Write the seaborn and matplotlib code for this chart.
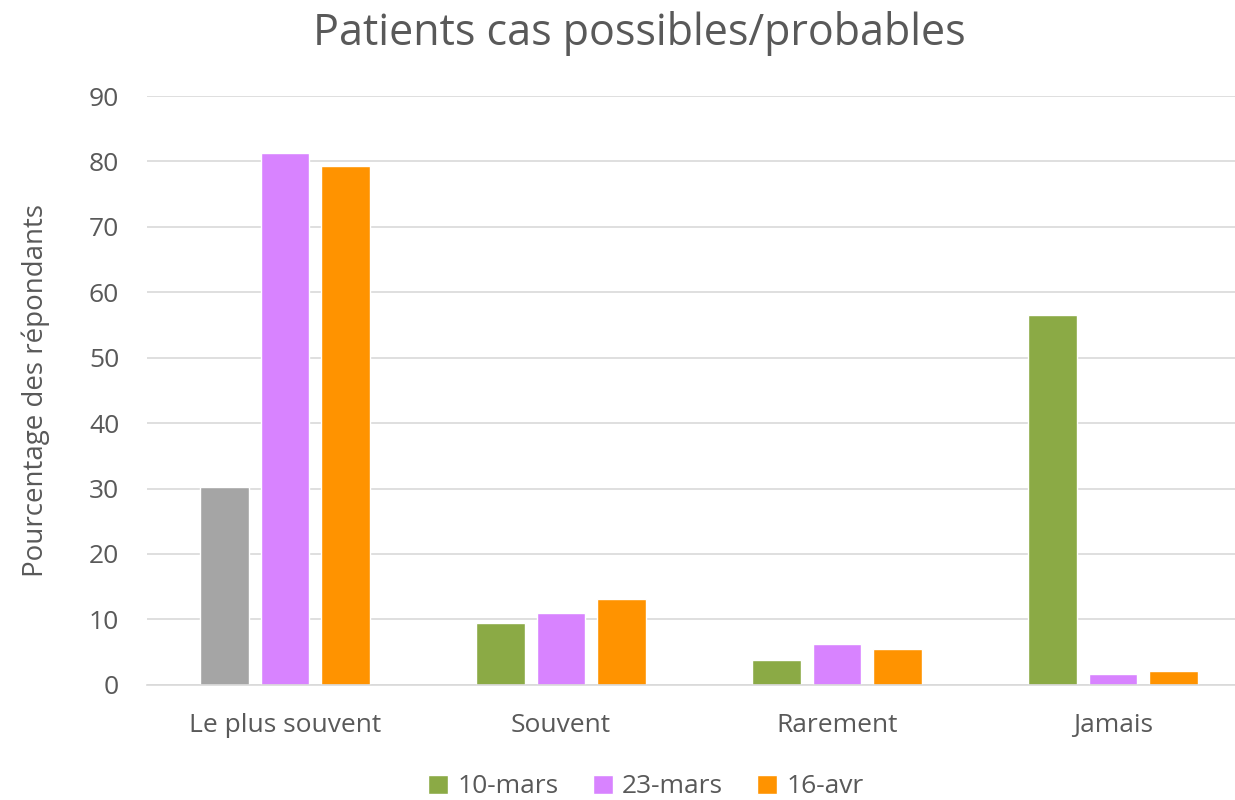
import pandas as pd
import numpy as np
import matplotlib.pyplot as plt
import seaborn as sns

# data
categories = ['Le plus souvent', 'Souvent', 'Rarement', 'Jamais']
series = ['10-mars', '23-mars', '16-avr']
v_10mars = [30.3, 9.5, 3.8, 56.6]
v_23mars = [81.3, 11.0, 6.3, 1.6]
v_16avr = [79.3, 13.1, 5.5, 2.1]
colors = ['#8BAA45', '#D883FF', '#FF9300']
grey = '#A5A5A5'
text_col = '#595959'

df = pd.DataFrame({
    'cat': categories * 3,
    'serie': [s for s in series for _ in categories],
    'val': v_10mars + v_23mars + v_16avr,
})

sns.set_style('white')
plt.rcParams['font.family'] = ['Open Sans', 'DejaVu Sans']

fig = plt.figure(figsize=(12.35, 8), dpi=100)
ax = fig.add_axes([0.119, 0.144, 0.894, 0.736])
sns.barplot(data=df, x='cat', y='val', hue='serie', order=categories,
            hue_order=series, palette=colors, width=0.66, gap=0.2,
            saturation=1, ax=ax, legend=True)

# first bar of 10-mars drawn in grey
ax.patches[0].set_facecolor(grey)

ax.set_ylim(0, 90)
ax.set_xlim(-0.5, 3.5)
ax.set_yticks(range(0, 91, 10))
ax.yaxis.grid(True, color='#D9D9D9', lw=1.2)
ax.set_axisbelow(True)
for s in ['top', 'right', 'left']:
    ax.spines[s].set_visible(False)
ax.spines['bottom'].set_color('#D9D9D9')
ax.spines['bottom'].set_linewidth(1.2)
ax.tick_params(axis='both', length=0, labelsize=19, colors=text_col)
ax.tick_params(axis='x', pad=20)
ax.tick_params(axis='y', pad=20)
ax.set_xlabel('')
ax.set_ylabel('Pourcentage des répondants', fontsize=20, color=text_col, labelpad=28)

fig.text(0.518, 0.958, 'Patients cas possibles/probables', fontsize=31,
         color=text_col, ha='center', va='center')

ax.legend(loc='lower center', bbox_to_anchor=(0.452, -0.235), ncol=3, frameon=False,
          fontsize=19, labelcolor=text_col, handlelength=0.75, handleheight=0.75,
          handletextpad=0.35, columnspacing=1.3)

fig.savefig('out.png', dpi=100)
